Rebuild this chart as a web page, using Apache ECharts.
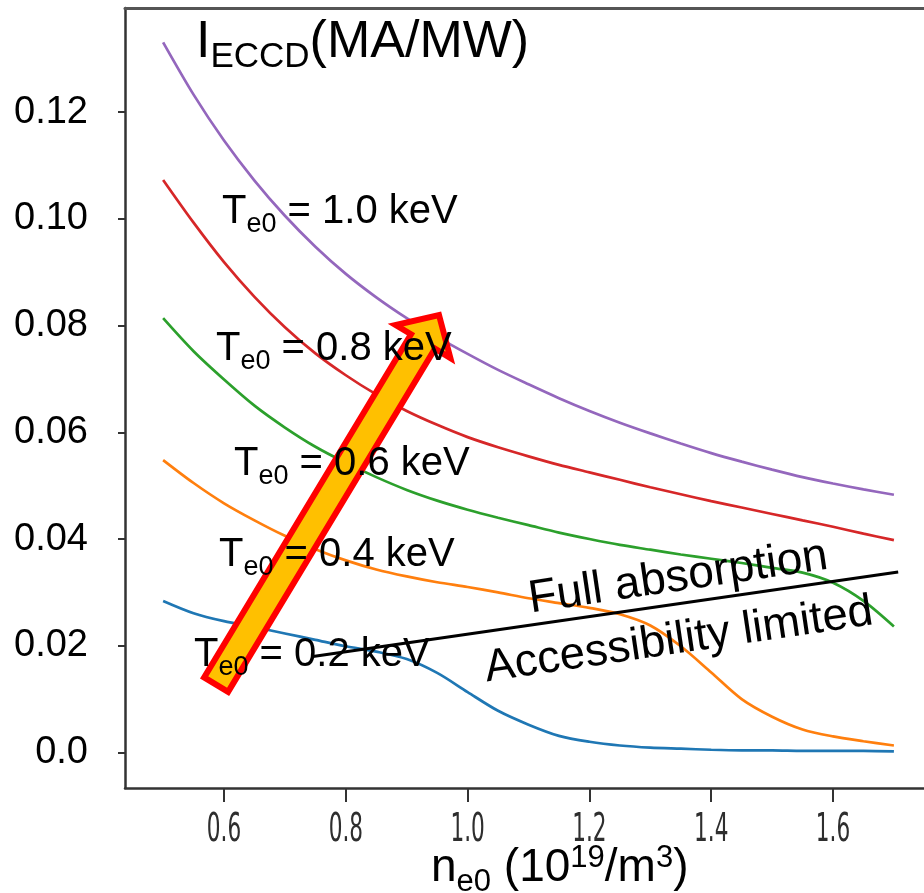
<!DOCTYPE html>
<html>
<head>
<meta charset="utf-8">
<script src="https://cdn.jsdelivr.net/npm/echarts@6/dist/echarts.min.js"></script>
<style>
  html, body { margin: 0; padding: 0; background: #ffffff; }
  #chart { width: 924px; height: 893px; }
</style>
</head>
<body>
<div id="chart"></div>
<script>
// Central electron density n_e0 (10^19 m^-3)
const density = [0.50, 0.55, 0.60, 0.65, 0.70, 0.75, 0.80, 0.85, 0.90, 0.95, 1.00, 1.05,
                 1.10, 1.15, 1.20, 1.25, 1.30, 1.35, 1.40, 1.45, 1.50, 1.55, 1.60, 1.65, 1.70];

// ECCD efficiency (MA/MW) for each central electron temperature
const te02 = [0.0284, 0.0261, 0.0246, 0.0235, 0.0223, 0.0211, 0.0199, 0.0189, 0.0175, 0.0149, 0.0113, 0.0078,
              0.0052, 0.0031, 0.0020, 0.0013, 0.0009, 0.0007, 0.0005, 0.0004, 0.0004, 0.0003, 0.0003, 0.0003, 0.0002];
const te04 = [0.0548, 0.0505, 0.0467, 0.0435, 0.0406, 0.0381, 0.0360, 0.0343, 0.0330, 0.0319, 0.0310, 0.0300,
              0.0289, 0.0280, 0.0271, 0.0259, 0.0238, 0.0199, 0.0150, 0.0100, 0.0067, 0.0043, 0.0030, 0.0021, 0.0013];
const te06 = [0.0814, 0.0752, 0.0699, 0.0650, 0.0609, 0.0573, 0.0543, 0.0516, 0.0492, 0.0472, 0.0455, 0.0440,
              0.0426, 0.0412, 0.0400, 0.0389, 0.0380, 0.0371, 0.0363, 0.0355, 0.0346, 0.0337, 0.0318, 0.0284, 0.0236];
const te08 = [0.1073, 0.0993, 0.0919, 0.0854, 0.0797, 0.0748, 0.0707, 0.0671, 0.0640, 0.0614, 0.0591, 0.0572,
              0.0555, 0.0539, 0.0525, 0.0511, 0.0497, 0.0484, 0.0471, 0.0459, 0.0447, 0.0435, 0.0423, 0.0410, 0.0398];
const te10 = [0.1331, 0.1233, 0.1147, 0.1072, 0.1006, 0.0948, 0.0897, 0.0853, 0.0814, 0.0779, 0.0747, 0.0717,
              0.0690, 0.0664, 0.0640, 0.0618, 0.0598, 0.0579, 0.0561, 0.0545, 0.0530, 0.0516, 0.0504, 0.0493, 0.0483];

const curveNames = ['0.2 keV', '0.4 keV', '0.6 keV', '0.8 keV', '1.0 keV'];
const curveValues = [te02, te04, te06, te08, te10];
const curveColors = ['#1f77b4', '#ff7f0e', '#2ca02c', '#d62728', '#9467bd'];

// Axis ticks
const xTicks = [0.6, 0.8, 1.0, 1.2, 1.4, 1.6];
const xTickLabels = ['0.6', '0.8', '1.0', '1.2', '1.4', '1.6'];
const yTicks = [0.00, 0.02, 0.04, 0.06, 0.08, 0.10, 0.12];
const yTickLabels = ['0.0', '0.02', '0.04', '0.06', '0.08', '0.10', '0.12'];

// Boundary between the fully absorbed and accessibility-limited regimes
const boundaryLine = [[0.746, 0.0180], [1.707, 0.0338]];

// Trend arrow: tail centre and tip, in data coordinates
const arrowTail = [0.587, 0.0127];
const arrowTip = [0.953, 0.0820];

const X_MIN = 0.4374, X_MAX = 1.7494;
const Y_MIN = -0.00667, Y_MAX = 0.13954;

const tickText = (ticks, labels) => (v) => {
  const i = ticks.findIndex(t => Math.abs(t - v) < 1e-9);
  return i >= 0 ? labels[i] : '';
};

const chart = echarts.init(document.getElementById('chart'), null, { renderer: 'canvas' });

const series = curveValues.map((vals, i) => ({
  type: 'line',
  name: curveNames[i],
  data: density.map((x, j) => [x, vals[j]]),
  smooth: 0.3,
  showSymbol: false,
  silent: true,
  lineStyle: { color: curveColors[i], width: 2.7 },
  z: 2 + i * 0.1
}));

series.push({
  type: 'line',
  name: 'boundary',
  data: boundaryLine,
  showSymbol: false,
  silent: true,
  lineStyle: { color: '#000000', width: 3 },
  z: 4
});

const axisColor = '#333333';

chart.setOption({
  animation: false,
  backgroundColor: '#ffffff',
  grid: { left: 125, right: 0, top: 8, bottom: 105, containLabel: false },
  xAxis: [
    {
      type: 'value',
      min: X_MIN,
      max: X_MAX,
      axisLine: { show: true, onZero: false, lineStyle: { color: axisColor, width: 2.5 } },
      axisTick: { show: true, customValues: xTicks, length: 14, lineStyle: { color: axisColor, width: 2 } },
      axisLabel: { show: false },
      splitLine: { show: false }
    },
    {
      type: 'value',
      position: 'top',
      min: X_MIN,
      max: X_MAX,
      axisLine: { show: true, onZero: false, lineStyle: { color: '#555555', width: 3 } },
      axisTick: { show: false },
      axisLabel: { show: false },
      splitLine: { show: false }
    }
  ],
  yAxis: {
    type: 'value',
    min: Y_MIN,
    max: Y_MAX,
    axisLine: { show: true, onZero: false, lineStyle: { color: axisColor, width: 2.5 } },
    axisTick: { show: true, customValues: yTicks, length: 7, lineStyle: { color: axisColor, width: 2 } },
    axisLabel: {
      customValues: yTicks,
      formatter: tickText(yTicks, yTickLabels),
      margin: 37,
      fontSize: 38,
      fontFamily: "'Liberation Sans', Arial, sans-serif",
      color: '#000000'
    },
    splitLine: { show: false }
  },
  series: series
});

// Annotations: arrow, titles, tick labels and curve labels
const FONT = "'Liberation Sans', Arial, sans-serif";
const richMain = (size) => ({ fontSize: size, fontFamily: FONT, fill: '#000000' });
const richSub = (size, down) => ({ fontSize: size, fontFamily: FONT, fill: '#000000', padding: [down, 0, 0, 0] });
const richSup = (size, up) => ({ fontSize: size, fontFamily: FONT, fill: '#000000', padding: [0, 0, up, 0] });

function teLabel(value, x, y) {
  return {
    type: 'text', x: x, y: y, z: 30, silent: true,
    style: {
      text: '{m|T}{s|e0}{m| = ' + value + '}',
      align: 'left', verticalAlign: 'middle',
      rich: { m: richMain(40), s: richSub(27, 26) }
    }
  };
}

const toPx = (pt) => chart.convertToPixel({ xAxisIndex: 0, yAxisIndex: 0 }, pt);

// x tick labels: tall, narrow figures placed under each tick
const xLabelEls = xTicks.map((t, i) => ({
  type: 'text',
  x: toPx([t, 0])[0],
  y: 831,
  scaleY: 1.6,
  z: 30, silent: true,
  style: {
    text: xTickLabels[i],
    fontSize: 24,
    fontFamily: "'DejaVu Sans Condensed', 'Liberation Sans Narrow', 'DejaVu Sans'",
    fill: '#2e2e2e',
    align: 'center', verticalAlign: 'middle'
  }
}));

const p0 = toPx(arrowTail);
const p1 = toPx(arrowTip);
const dx = p1[0] - p0[0], dy = p1[1] - p0[1];
const len = Math.hypot(dx, dy);
const ux = dx / len, uy = dy / len;      // along the shaft
const nx = -uy, ny = ux;                 // across the shaft
const shaftHalf = 14, headHalf = 32, headLen = 31;
const bx = p1[0] - ux * headLen, by = p1[1] - uy * headLen;
const arrowPoints = [
  [p0[0] + nx * shaftHalf, p0[1] + ny * shaftHalf],
  [bx + nx * shaftHalf, by + ny * shaftHalf],
  [bx + nx * headHalf, by + ny * headHalf],
  [p1[0], p1[1]],
  [bx - nx * headHalf, by - ny * headHalf],
  [bx - nx * shaftHalf, by - ny * shaftHalf],
  [p0[0] - nx * shaftHalf, p0[1] - ny * shaftHalf]
];

const tilt = 8.4 * Math.PI / 180;

chart.setOption({
  graphic: [
    {
      type: 'polygon', z: 20, silent: true,
      shape: { points: arrowPoints },
      style: { fill: '#ffc000', stroke: '#ff0000', lineWidth: 6, lineJoin: 'miter' }
    },
    {
      type: 'text', x: 196, y: 43, z: 30, silent: true,
      style: {
        text: '{m|I}{s|ECCD}{m|(MA/MW)}',
        align: 'left', verticalAlign: 'middle',
        rich: { m: richMain(52), s: richSub(35, 28) }
      }
    },
    {
      type: 'text', x: 431, y: 868, z: 30, silent: true,
      style: {
        text: '{m|n}{s|e0}{m| (10}{p|19}{m|/m}{p|3}{m|)}',
        align: 'left', verticalAlign: 'middle',
        rich: { m: richMain(46), s: richSub(31, 28), p: richSup(31, 20) }
      }
    },
    teLabel('1.0 keV', 222, 212),
    teLabel('0.8 keV', 216, 349),
    teLabel('0.6 keV', 234, 464),
    teLabel('0.4 keV', 219, 555),
    teLabel('0.2 keV', 194, 655),
    {
      type: 'text', x: 529, y: 600, rotation: tilt, z: 30, silent: true,
      style: { text: 'Full absorption', fontSize: 46, fontFamily: FONT, fill: '#000000', align: 'left', verticalAlign: 'middle' }
    },
    {
      type: 'text', x: 485, y: 669, rotation: tilt, z: 30, silent: true,
      style: { text: 'Accessibility limited', fontSize: 45.5, fontFamily: FONT, fill: '#000000', align: 'left', verticalAlign: 'middle' }
    }
  ].concat(xLabelEls)
});
</script>
</body>
</html>
